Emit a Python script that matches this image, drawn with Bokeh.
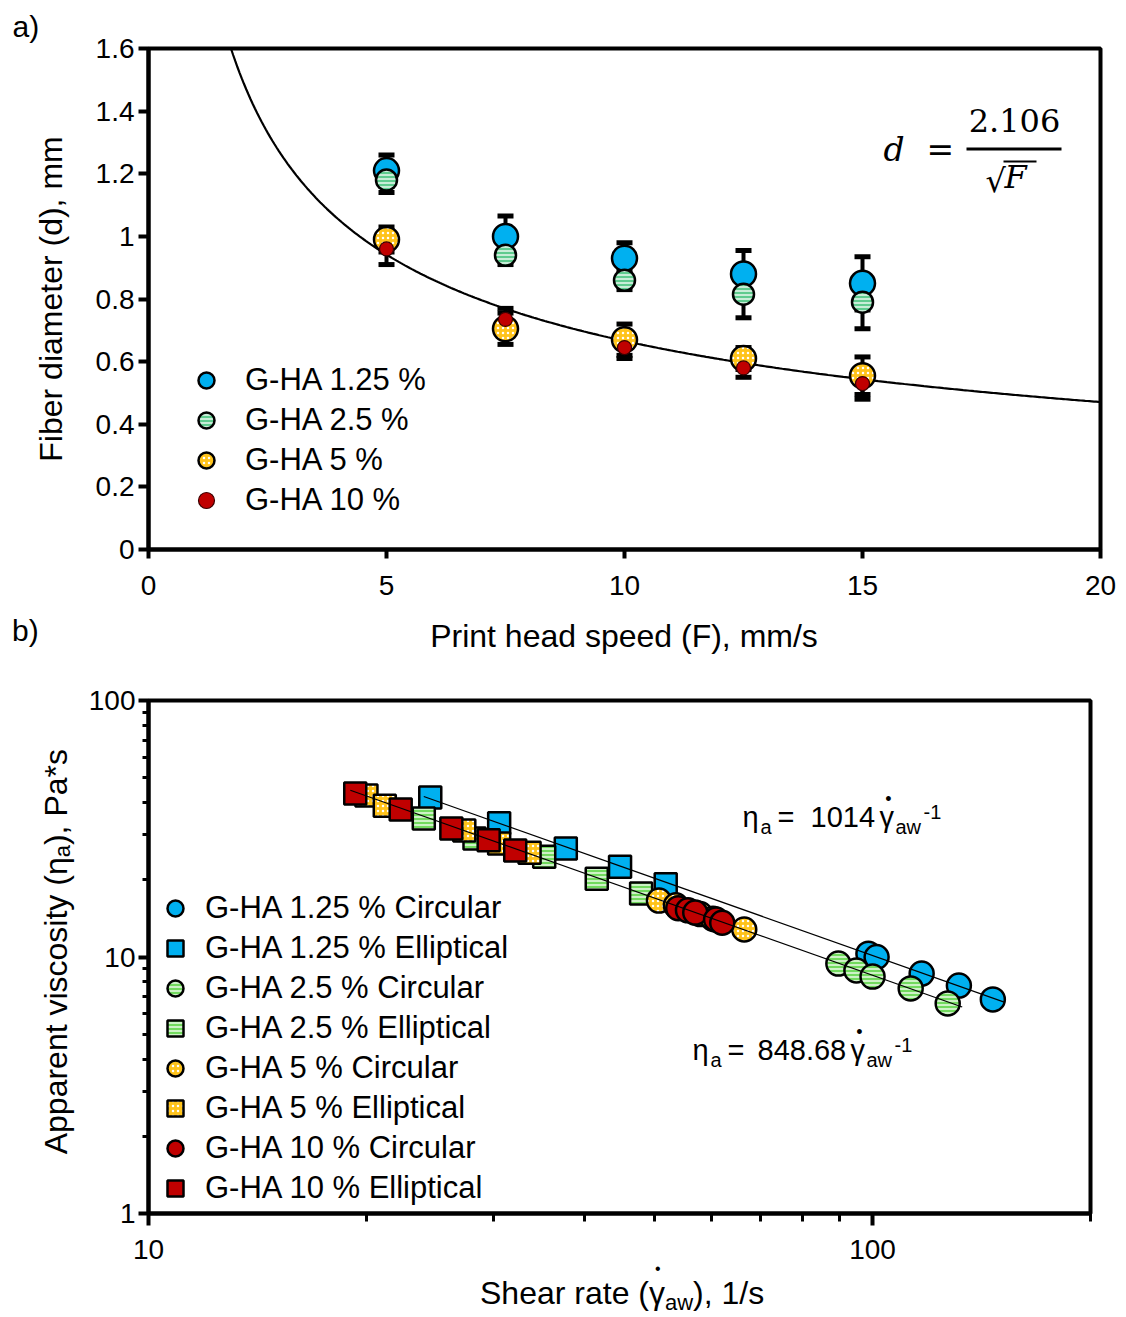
import numpy as np
from bokeh.plotting import figure
from bokeh.models import (ColumnDataSource, Whisker, TeeHead, Label, Legend, LegendItem,
                          FixedTicker, Range1d, BoxAnnotation, NumeralTickFormatter, Div)
from bokeh.layouts import column, row
from bokeh.embed import file_html
from bokeh.resources import INLINE

# ---------------- panel a) data ----------------
SPEED = [5, 7.5, 10, 12.5, 15]                      # print head speed, mm/s
DIAM_125 = [1.21, 1.00, 0.93, 0.88, 0.85]
ERR_125 = [0.05, 0.065, 0.05, 0.075, 0.085]
DIAM_25 = [1.18, 0.94, 0.86, 0.815, 0.79]
ERR_25 = [0.04, 0.03, 0.03, 0.075, 0.085]
DIAM_5 = [0.99, 0.705, 0.67, 0.61, 0.555]
ERR_5 = [0.04, 0.05, 0.05, 0.035, 0.06]
DIAM_10 = [0.96, 0.735, 0.645, 0.58, 0.53]
ERR_10 = [0.05, 0.035, 0.035, 0.03, 0.05]
FIT_A = 2.106
A_LABELS = ["G-HA 1.25 %", "G-HA 2.5 %", "G-HA 5 %", "G-HA 10 %"]
A_X_TICKS = [0, 5, 10, 15, 20]
A_Y_TICKS = [0, 0.2, 0.4, 0.6, 0.8, 1, 1.2, 1.4, 1.6]

# ---------------- panel b) data ----------------
C125_X = [98.7, 101.3, 116.9, 131.6, 146.6]
C125_Y = [10.3, 10.0, 8.62, 7.74, 6.83]
E125_X = [24.5, 30.5, 37.7, 44.8, 51.8]
E125_Y = [41.9, 33.2, 26.5, 22.5, 19.2]
C25_X = [89.7, 95.0, 100.0, 112.9, 127.0]
C25_Y = [9.43, 8.86, 8.39, 7.54, 6.59]
E25_X = [24.0, 28.2, 35.2, 41.6, 47.9]
E25_Y = [34.7, 29.0, 24.6, 20.2, 17.7]
C5_X = [50.7, 53.5, 57.8, 60.2, 66.5]
C5_Y = [16.6, 15.9, 14.7, 14.1, 12.8]
E5_X = [20.0, 21.2, 27.3, 30.5, 33.6]
E5_Y = [42.6, 38.9, 31.1, 27.7, 25.5]
C10_X = [53.9, 55.6, 56.9, 60.8, 62.0]
C10_Y = [15.5, 15.2, 14.9, 14.0, 13.6]
E10_X = [19.3, 22.3, 26.2, 29.5, 32.1]
E10_Y = [43.4, 37.6, 31.7, 28.5, 26.0]
FIT_HI = 1014.0
FIT_LO = 848.68
FIT_HI_X = [24.0, 152.0]
FIT_LO_X = [19.0, 133.0]
B_LABELS = ["G-HA 1.25 % Circular", "G-HA 1.25 % Elliptical",
            "G-HA 2.5 % Circular", "G-HA 2.5 % Elliptical",
            "G-HA 5 % Circular", "G-HA 5 % Elliptical",
            "G-HA 10 % Circular", "G-HA 10 % Elliptical"]
B_X_TICKS = [10, 100]
B_Y_TICKS = [1, 10, 100]

# ---------------- styles ----------------
BLUE = "#00B0F0"
GREEN_A = "#5FCB8E"
GREEN_B = "#72DA5E"
YELLOW = "#FFC31A"
RED = "#C00000"
FONT = "Liberation Sans"
SERIF = "DejaVu Serif"

# Arial / Liberation Sans advance widths (em)
AW = {"A": .667, "p": .556, "a": .556, "r": .333, "e": .556, "n": .556, "t": .278, " ": .278,
      "v": .5, "i": .222, "s": .5, "c": .5, "o": .556, "y": .5, "(": .333, ")": .333, ",": .278,
      "P": .667, "*": .389, "S": .667, "h": .556, "1": .556, "/": .278, "w": .722,
      "\u03b7": .556, "\u03b3": .5}


def tw(s, size):
    return sum(AW.get(c, .556) for c in s) * size


def txt(p, text, sx, sy, size, font=FONT, style="normal", angle=0.0, align="left",
        baseline="alphabetic"):
    if baseline == "alphabetic":
        sy += 0.375 * size          # bring the glyph baseline onto the requested line
    p.add_layout(Label(x=sx, y=sy, x_units="screen", y_units="screen", text=text,
                       text_font=font, text_font_size=f"{size}px", text_font_style=style,
                       text_color="black", angle=angle, text_align=align,
                       text_baseline=baseline))


def style_axes(p):
    for ax in p.axis:
        ax.axis_line_width = 4
        ax.axis_line_color = "black"
        ax.major_tick_line_width = 4
        ax.major_tick_line_color = "black"
        ax.major_tick_in = 0
        ax.minor_tick_in = 0
        ax.major_label_text_font = FONT
        ax.major_label_text_font_size = "28px"
        ax.major_label_text_color = "black"
        ax.axis_label_text_font = FONT
        ax.axis_label_text_font_style = "normal"
        ax.axis_label_text_font_size = "32px"
        ax.axis_label_text_color = "black"
    p.xgrid.grid_line_color = None
    p.ygrid.grid_line_color = None
    p.outline_line_color = "black"
    p.outline_line_width = 4
    p.outline_line_alpha = 1.0


def make_legend(items, loc, standoff):
    return Legend(items=items, location=loc, glyph_width=40, glyph_height=40, spacing=0,
                  padding=0, margin=0, label_standoff=standoff, border_line_color=None,
                  background_fill_alpha=0, label_text_font=FONT, label_text_font_size="31px",
                  label_text_color="black", label_height=30)


def div(html, w, h):
    return Div(text=html, width=w, height=h, margin=0)


FX = 148      # page x of frame left (both panels)
FB1 = 549     # page y of frame bottom (panel a)
FB2 = 1213    # page y of frame bottom (panel b)

# =============== panel a) ===============
p1 = figure(frame_width=952, frame_height=501, x_range=Range1d(0, 20), y_range=Range1d(0, 1.6),
            output_backend="svg", toolbar_location=None, min_border_left=148,
            min_border_right=18, min_border_top=48, min_border_bottom=63,
            background_fill_color="white", border_fill_color="white", title="a)")
p1.title.align = "left"
p1.title.offset = -136
p1.title.text_font = FONT
p1.title.text_font_size = "30px"
p1.title.text_font_style = "normal"
p1.title.text_color = "black"
p1.title.standoff = 12
style_axes(p1)
p1.xaxis.ticker = FixedTicker(ticks=A_X_TICKS)
p1.yaxis.ticker = FixedTicker(ticks=A_Y_TICKS)
p1.yaxis.formatter = NumeralTickFormatter(format="0.[0]")
p1.xaxis.major_tick_out = 9
p1.yaxis.major_tick_out = 10
p1.xaxis.major_label_standoff = 17
p1.yaxis.major_label_standoff = 4
p1.yaxis.axis_label = "Fiber diameter (d), mm"
p1.yaxis.axis_label_standoff = 24
p1.xaxis.minor_tick_line_color = None
p1.yaxis.minor_tick_line_color = None

# fitted curve d = 2.106 / sqrt(F)
f_min = (FIT_A / 1.6) ** 2
F = np.linspace(f_min, 20, 400)
p1.line(F, FIT_A / np.sqrt(F), line_color="black", line_width=2.2)

# error bars
for d, e in [(DIAM_125, ERR_125), (DIAM_25, ERR_25), (DIAM_5, ERR_5), (DIAM_10, ERR_10)]:
    src = ColumnDataSource(dict(x=SPEED, upper=[a + b for a, b in zip(d, e)],
                                lower=[a - b for a, b in zip(d, e)]))
    p1.add_layout(Whisker(source=src, base="x", upper="upper", lower="lower",
                          line_width=4, line_color="black", level="underlay",
                          upper_head=TeeHead(size=16, line_width=5, line_color="black"),
                          lower_head=TeeHead(size=16, line_width=5, line_color="black")))

ra1 = p1.scatter(SPEED, DIAM_125, marker="circle", size=25, fill_color=BLUE,
                 line_color="black", line_width=2.5)
ra2 = p1.scatter(SPEED, DIAM_25, marker="circle", size=21, fill_color=GREEN_A,
                 hatch_pattern="horizontal_line", hatch_color="white", hatch_scale=4,
                 hatch_weight=1.3, line_color="black", line_width=2.5)
ra3 = p1.scatter(SPEED, DIAM_5, marker="circle", size=25, fill_color=YELLOW,
                 hatch_pattern="dot", hatch_color="white", hatch_scale=5, hatch_weight=1.5,
                 line_color="black", line_width=2.5)
ra4 = p1.scatter(SPEED, DIAM_10, marker="circle", size=14, fill_color=RED,
                 line_color="#3a0000", line_width=1.2)

p1.add_layout(make_legend([LegendItem(label=l, renderers=[r])
                           for l, r in zip(A_LABELS, [ra1, ra2, ra3, ra4])], (38, 29), 19))

# equation d = 2.106 / sqrt(F)
txt(p1, "d", 883 - FX, FB1 - 161, 33, font=SERIF, style="italic")
txt(p1, "=", 926 - FX, FB1 - 161, 33, font=SERIF)
txt(p1, "2.106", 1014 - FX, FB1 - 132, 32, font=SERIF, align="center")
p1.add_layout(BoxAnnotation(left=966 - FX, right=1061 - FX, bottom=FB1 - 150, top=FB1 - 147,
                            left_units="screen", right_units="screen", bottom_units="screen",
                            top_units="screen", fill_color="black", fill_alpha=1,
                            line_color=None))
txt(p1, "\u221a", 985 - FX, FB1 - 192, 32, font=SERIF)
txt(p1, "F", 1004 - FX, FB1 - 188, 32, font=SERIF, style="italic")
p1.add_layout(BoxAnnotation(left=1003 - FX, right=1036 - FX, bottom=FB1 - 162, top=FB1 - 160,
                            left_units="screen", right_units="screen", bottom_units="screen",
                            top_units="screen", fill_color="black", fill_alpha=1,
                            line_color=None))

SANS = "font-family:'Liberation Sans',Arial,sans-serif; color:black; white-space:nowrap;"
b_div = div(f"<div style=\"{SANS} font-size:30px; line-height:34px; padding-top:2px; "
            f"padding-left:12px;\">b)</div>", 148, 46)
xa_div = div(f"<div style=\"{SANS} font-size:32px; line-height:36px; padding-top:6px; "
             f"width:952px; text-align:center;\">Print head speed (F), mm/s</div>", 970, 46)

# =============== panel b) ===============
P2_H = 42 + 513 + 60
p2 = figure(frame_width=942, frame_height=513, x_axis_type="log", y_axis_type="log",
            x_range=Range1d(10, 200), y_range=Range1d(1, 100),
            output_backend="svg", toolbar_location=None, min_border_left=68,
            min_border_right=28, min_border_top=42, min_border_bottom=60,
            background_fill_color="white", border_fill_color="white")
style_axes(p2)
x_minor = [k * 10 ** e for e in (1, 2) for k in range(2, 10) if k * 10 ** e <= 200]
y_minor = [k * 10 ** e for e in (0, 1) for k in range(2, 10)]
p2.xaxis.ticker = FixedTicker(ticks=B_X_TICKS, minor_ticks=x_minor)
p2.yaxis.ticker = FixedTicker(ticks=B_Y_TICKS, minor_ticks=y_minor)
p2.xaxis.formatter = NumeralTickFormatter(format="0")
p2.yaxis.formatter = NumeralTickFormatter(format="0")
p2.xaxis.major_tick_out = 12
p2.yaxis.major_tick_out = 10
p2.xaxis.minor_tick_out = 8
p2.yaxis.minor_tick_out = 6
p2.xaxis.minor_tick_line_width = 3
p2.yaxis.minor_tick_line_width = 3
p2.xaxis.minor_tick_line_color = "black"
p2.yaxis.minor_tick_line_color = "black"
p2.xaxis.major_label_standoff = 14
p2.yaxis.major_label_standoff = 3

series = [
    (C125_X, C125_Y, "circle", BLUE, None, 24),
    (E125_X, E125_Y, "square", BLUE, None, 22),
    (C25_X, C25_Y, "circle", GREEN_B, "horizontal_line", 24),
    (E25_X, E25_Y, "square", GREEN_B, "horizontal_line", 22),
    (C5_X, C5_Y, "circle", YELLOW, "dot", 24),
    (E5_X, E5_Y, "square", YELLOW, "dot", 22),
    (C10_X, C10_Y, "circle", RED, None, 24),
    (E10_X, E10_Y, "square", RED, None, 22),
]
rb = []
for xs, ys, mk, col, hp, sz in series:
    kw = dict(marker=mk, size=sz, fill_color=col, line_color="black", line_width=2.5)
    if hp is not None:
        kw.update(hatch_pattern=hp, hatch_color="white", hatch_scale=4 if hp != "dot" else 5,
                  hatch_weight=1.3)
    rb.append(p2.scatter(xs, ys, **kw))

p2.line(FIT_HI_X, [FIT_HI / x for x in FIT_HI_X], line_color="black", line_width=1.2)
p2.line(FIT_LO_X, [FIT_LO / x for x in FIT_LO_X], line_color="black", line_width=1.2)

p2.add_layout(make_legend([LegendItem(label=l, renderers=[r]) for l, r in zip(B_LABELS, rb)],
                          (7, 5), 10))


# fit equations (inside the frame)
def equation(p, x0, base, coef, pos):
    sx = lambda px: px - FX
    sy = lambda py: FB2 - py
    txt(p, "\u03b7", sx(x0), sy(base), 29)
    txt(p, "a", sx(x0 + pos["a"]), sy(base + 7), 20)
    txt(p, "=", sx(x0 + pos["eq"]), sy(base), 29)
    txt(p, coef, sx(x0 + pos["num"]), sy(base), 29)
    txt(p, "\u03b3", sx(x0 + pos["g"]), sy(base), 29)
    txt(p, "\u2022", sx(x0 + pos["dot"]), sy(base - 29), 18, align="center", baseline="middle")
    txt(p, "aw", sx(x0 + pos["aw"]), sy(base + 7), 20)
    txt(p, "-1", sx(x0 + pos["sup"]), sy(base - 8), 20)


equation(p2, 742, 827, "1014",
         dict(a=18, eq=35, num=68, g=137, dot=146, aw=153, sup=181))
equation(p2, 692, 1060, "848.68",
         dict(a=18, eq=35, num=65, g=158, dot=167, aw=174, sup=202))

# axis titles of panel b) with sub-scripts, as HTML text
y_html = (f"<div style=\"height:{P2_H}px; width:80px; display:flex; align-items:center; "
          f"box-sizing:border-box; padding-left:38px; padding-bottom:27px;\">"
          f"<span style=\"{SANS} writing-mode:vertical-rl; transform:rotate(180deg); "
          f"font-size:32px; line-height:36px;\">Apparent viscosity (\u03b7"
          f"<span style=\"font-size:22px; vertical-align:-7px;\">a</span>), Pa*s</span></div>")
y_div = div(y_html, 80, P2_H)

x_title_w = tw("Shear rate (", 32) + tw("\u03b3", 32) + tw("aw", 22) + tw("), 1/s", 32)
X_DIV_H = 1316 - 612 - 46 - P2_H
x_html = (f"<div style=\"{SANS} font-size:32px; line-height:32px; padding-top:4px; "
          f"padding-left:{622 - x_title_w / 2:.0f}px;\">Shear rate ("
          f"<span style=\"position:relative; display:inline-block;\">\u03b3"
          f"<span style=\"position:absolute; left:6px; top:-16px; font-size:16px; "
          f"line-height:16px;\">\u2022</span></span>"
          f"<span style=\"font-size:22px; vertical-align:-6px;\">aw</span>), 1/s</div>")
x_div = div(x_html, 1118, X_DIV_H)

layout = column(p1, row(b_div, xa_div), row(y_div, p2), x_div)
open("out.html", "w").write(file_html(layout, INLINE))
